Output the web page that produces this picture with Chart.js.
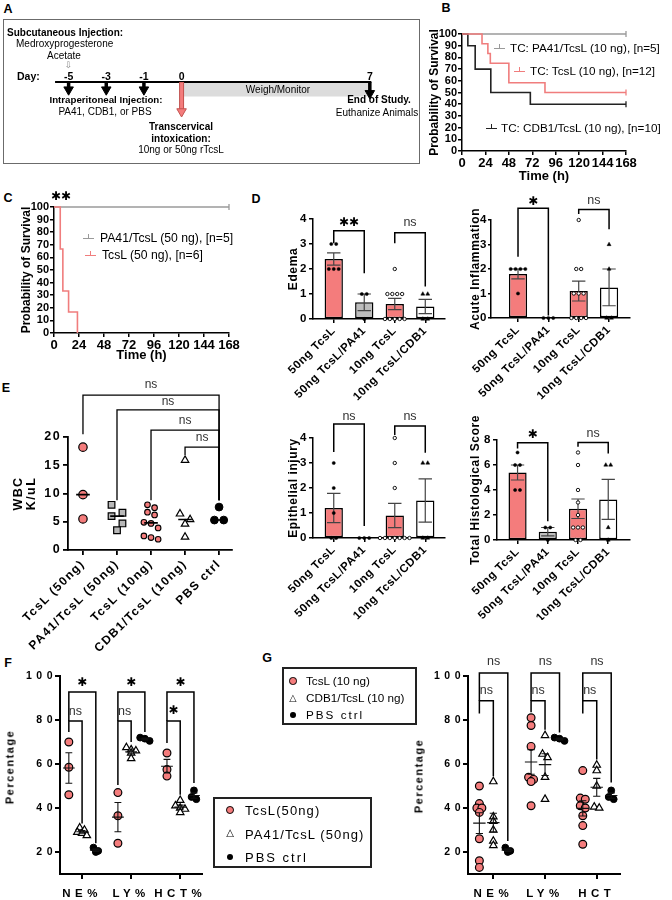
<!DOCTYPE html>
<html><head><meta charset="utf-8">
<script src="https://cdn.jsdelivr.net/npm/chart.js@4.4.1/dist/chart.umd.min.js"></script>
<style>
html,body{margin:0;padding:0;background:#fff}
#root{position:relative;width:672px;height:900px;overflow:hidden;font-family:'Liberation Sans',Arial,Helvetica,sans-serif;color:#000;background:#fff}
#root canvas{position:absolute}
.t{position:absolute;white-space:nowrap;line-height:1}
</style></head><body><div id="root"></div>
<script>
// ================= DATA =================
// Panel A – timeline days
const dayLabels = ['-5', '-3', '-1', '0', '7'];
// Panel B – Kaplan-Meier, 10 ng
const timeTicksH = [0, 24, 48, 72, 96, 120, 144, 168];
const survTicks = [0, 10, 20, 30, 40, 50, 60, 70, 80, 90, 100];
const tB_PA41 = [0, 168];                              const sB_PA41 = [100, 100];
const tB_TcsL = [0, 20.5, 26.5, 29, 48, 85, 168];      const sB_TcsL = [100, 91.7, 83.3, 75, 58.3, 50, 50];
const tB_CDB1 = [0, 6, 13.5, 29.5, 70, 168];           const sB_CDB1 = [100, 90, 70, 50, 40, 40];
const legendB = ['TC: PA41/TcsL (10 ng), [n=5]', 'TC: TcsL (10 ng), [n=12]', 'TC: CDB1/TcsL (10 ng), [n=10]'];
// Panel C – Kaplan-Meier, 50 ng
const tC_PA41 = [0, 168];                  const sC_PA41 = [100, 100];
const tC_TcsL = [0, 6, 8.5, 14, 22.5];     const sC_TcsL = [100, 66.7, 33.3, 16.7, 0];
const legendC = ['PA41/TcsL (50 ng), [n=5]', 'TcsL (50 ng), [n=6]'];
// Panel D – histology scores (individual animals per group)
const histGroups = ['50ng TcsL', '50ng TcsL/PA41', '10ng TcsL', '10ng TcsL/CDB1'];
const histTicks4 = [0, 1, 2, 3, 4];
const histTicks8 = [0, 2, 4, 6, 8];
const edema       = [[3, 3, 2, 2, 2], [1, 1, 0], [2, 1, 1, 1, 1, 0, 0, 0, 0, 0], [1, 1, 0, 0]];
const acuteInfl   = [[2, 2, 2, 2, 1], [0, 0, 0], [4, 2, 2, 1, 1, 1, 0, 0, 0, 0], [3, 2, 0, 0]];
const epithInjury = [[3, 2, 1, 0, 0], [0, 0, 0], [4, 3, 2, 0, 0, 0, 0, 0, 0, 0], [3, 3, 0, 0]];
const totalScore  = [[7, 6, 6, 4, 4], [1, 1, 0], [7, 6, 4, 3, 2, 1, 1, 1, 0, 0], [6, 6, 1, 0]];
// Panel E – WBC (K/uL)
const wbcGroups = ['TcsL (50ng)', 'PA41/TcsL (50ng)', 'TcsL (10ng)', 'CDB1/TcsL (10ng)', 'PBS ctrl'];
const wbcTicks = [0, 5, 10, 15, 20];
const wbc_TcsL50 = [18.2, 9.8, 5.5];
const wbc_PA41   = [8.0, 6.6, 6.0, 4.7, 3.5];
const wbc_TcsL10 = [8.0, 7.5, 6.7, 6.2, 4.9, 4.7, 3.9, 2.5, 2.2, 1.9];
const wbc_CDB1   = [15.9, 6.4, 5.4, 4.6, 2.3];
const wbc_PBS    = [7.6, 5.3, 5.3];
// Panels F & G – blood counts (%), each array: [NE, LY, HCT]
const cbcParamsF = ['NE%', 'LY%', 'HCT%'];
const cbcParamsG = ['NE%', 'LY%', 'HCT'];
const pctTicks = [20, 40, 60, 80, 100];
const F_TcsL50 = [[70, 58.5, 46], [47, 36.5, 24], [65, 57.5, 54.5]];
const F_PA41   = [[31, 30, 29, 28.5, 27.5], [67.5, 66.5, 66, 65, 62.5], [43.5, 41, 40, 39.5, 38]];
const PBS_cbc  = [[22, 20.5, 20], [72, 71.5, 70.5], [48, 45, 44]];
const G_TcsL10 = [[50, 42, 40, 40, 38, 26, 16, 13], [81, 77.5, 68, 54, 53, 52, 41], [57, 44.5, 44, 41, 40, 36.5, 32, 23.5]];
const G_CDB1   = [[52, 36, 34, 30, 25, 23], [73, 64.5, 63, 54, 44], [59.5, 57, 50, 40.5, 40]];
const legendF = ['TcsL(50ng)', 'PA41/TcsL (50ng)', 'PBS ctrl'];
const legendG = ['TcsL (10 ng)', 'CDB1/TcsL (10 ng)', 'PBS ctrl'];

// ================= STYLE / HELPERS =================
const SAL = '#F47C7C', SAL_LINE = '#F07D7D', GRAY_BAR = '#BDBDBD';
const FONT = "'Liberation Sans', Arial, Helvetica, sans-serif";
const STAR_FONT = "bold 12px 'DejaVu Sans', sans-serif";
const NS_FONT = "12.5px " + FONT;
Chart.defaults.font.family = FONT;
Chart.defaults.color = '#000';

const root = document.getElementById('root');
function addCanvas(x, y, w, h) {
  const c = document.createElement('canvas'); c.width = w; c.height = h;
  Object.assign(c.style, {left: x + 'px', top: y + 'px', width: w + 'px', height: h + 'px'});
  root.appendChild(c); return c;
}
function txt(s, x, y, css, ax, ay) {
  const d = document.createElement('div'); d.className = 't'; d.textContent = s;
  d.style.cssText = css || ''; d.style.left = x + 'px'; d.style.top = y + 'px';
  d.style.transform = `translate(${-(ax ?? 0) * 100}%,${-(ay ?? 0.5) * 100}%)`;
  root.appendChild(d); return d;
}
function rtxt(s, cx, cy, css) { const d = txt(s, cx, cy, css, 0.5, 0.5); d.style.transform = 'translate(-50%,-50%) rotate(-90deg)'; return d; }
function div(css) { const d = document.createElement('div'); d.style.cssText = 'position:absolute;box-sizing:border-box;' + css; root.appendChild(d); return d; }
function circ(cx, cy, r, fill, stroke) { div(`left:${cx - r}px;top:${cy - r}px;width:${2 * r}px;height:${2 * r}px;border-radius:50%;background:${fill};border:${stroke ? '1.2px solid #000' : 'none'}`); }
function kmMark(x, y, color) {
  div(`left:${x}px;top:${y - 4}px;width:11px;height:5px;border-bottom:1.4px solid ${color}`);
  div(`left:${x + 5}px;top:${y - 4}px;width:1.4px;height:5px;background:${color}`);
}

const mean = a => a.reduce((s, v) => s + v, 0) / a.length;
const sem = a => { if (a.length < 2) return 0; const m = mean(a); return Math.sqrt(a.reduce((s, x) => s + (x - m) ** 2, 0) / (a.length - 1) / a.length); };
const median = a => { const s = [...a].sort((p, q) => p - q), n = s.length; return n % 2 ? s[(n - 1) / 2] : (s[n / 2 - 1] + s[n / 2]) / 2; };
// horizontal spreading of points that share (almost) the same value
function rowOffsets(vals, pxPerY, rowPx, stepPx, pxPerX) {
  const idx = vals.map((v, i) => i).sort((a, b) => vals[b] - vals[a]);
  const off = new Array(vals.length).fill(0); let row = [];
  const flush = () => { row.forEach((i, j) => { off[i] = (j - (row.length - 1) / 2) * stepPx / pxPerX; }); row = []; };
  for (const i of idx) { if (row.length && (vals[row[0]] - vals[i]) * pxPerY >= rowPx) flush(); row.push(i); }
  flush(); return off;
}
function dots(vals, center, offs, st) {
  return Object.assign({type: 'scatter', data: vals.map((v, i) => ({x: center + offs[i], y: v})), showLine: false, clip: false, order: 2}, st);
}
function segs(list, color, width, order) {
  const data = [];
  list.forEach((s, k) => { if (k) data.push({x: s[0][0], y: null}); s.forEach(p => data.push({x: p[0], y: p[1]})); });
  return {type: 'line', data, borderColor: color, borderWidth: width, pointRadius: 0, fill: false, clip: false, order, spanGaps: false, tension: 0};
}
const bracket = (xl, yl, top, xr, yr) => [[xl, yl], [xl, top], [xr, top], [xr, yr]];

function ax(o) {
  const s = {
    type: 'linear', min: o.min, max: o.max, offset: false,
    afterBuildTicks: sc => { sc.ticks = o.ticks.map(v => ({value: v})); },
    ticks: {font: o.font, padding: o.pad ?? 2, autoSkip: false, maxRotation: o.rot ?? 0, minRotation: o.rot ?? 0,
      callback: o.labels ? (v => o.labels[Math.round(v)]) : (v => String(v))},
    grid: {drawOnChartArea: false, drawTicks: true, tickLength: o.tl ?? 4, color: '#000', lineWidth: o.bw ?? 1.5, offset: false},
    border: {display: true, color: '#000', width: o.bw ?? 1.5},
    title: o.title ? {display: true, text: o.title, font: o.tfont, padding: o.tpad} : {display: false}
  };
  if (o.display === false) s.display = false;
  return s;
}
function notesPlugin(items) {
  return {id: 'notes', afterDraw(chart) {
    const ctx = chart.ctx, xs = chart.scales.x, ys = chart.scales.y;
    items.forEach(n => { ctx.save(); ctx.letterSpacing = '0px'; ctx.font = n.f; ctx.fillStyle = n.c || '#000';
      ctx.textAlign = 'center'; ctx.textBaseline = 'middle';
      ctx.fillText(n.t, xs.getPixelForValue(n.x), ys.getPixelForValue(n.y)); ctx.restore(); });
  }};
}
function spacingPlugin(px) {
  return {id: 'spacing', beforeLayout(c) { c.ctx.letterSpacing = px + 'px'; }, beforeDraw(c) { c.ctx.letterSpacing = px + 'px'; }};
}
function makeChart(box, g, type, datasets, scales, notes, spacing) {
  const c = addCanvas(box[0], box[1], box[2], box[3]);
  if (g.xh != null) scales.x.afterFit = s => { s.height = g.xh; };
  if (g.yw != null) scales.y.afterFit = s => { s.width = g.yw; };
  return new Chart(c, {
    type, data: {datasets},
    options: {responsive: false, animation: false, devicePixelRatio: 1, events: [],
      layout: {padding: {top: g.pt || 0, right: g.pr || 0, left: 0, bottom: 0}},
      scales, plugins: {legend: {display: false}, tooltip: {enabled: false}}},
    plugins: [spacingPlugin(spacing || 0), notesPlugin(notes || [])]
  });
}

// ================= PANEL LETTERS =================
const PL = "font-weight:bold;font-size:12.5px;";
[['A', 8, 9], ['B', 446, 8], ['C', 8, 198], ['D', 256, 199], ['E', 6, 388], ['F', 8, 663], ['G', 267, 658]]
  .forEach(p => txt(p[0], p[1], p[2], PL, 0.5, 0.5));

// ================= PANEL A (schematic timeline) =================
const daySlots = [0, 1, 2, 3, 8]; // schematic (not to scale) slot of each day mark
const slotOf = d => daySlots[dayLabels.indexOf(d)];
div('left:3px;top:19px;width:417px;height:145px;border:1px solid #6b6b6b');
const AY = {line: 62, bandTop: 63, bandBot: 78, tip: 76, endTip: 80, redTip: 100};
function arrowDs(x, y0, tip, color, w, r, fill, edge, order) {
  return {type: 'line', data: [{x, y: y0}, {x, y: tip - r}], borderColor: color, borderWidth: w,
    pointRadius: [0, r], pointStyle: 'triangle', rotation: 180, pointBackgroundColor: fill,
    pointBorderColor: edge, pointBorderWidth: 1, clip: false, order};
}
const dsA = [
  {type: 'line', data: [{x: slotOf('0'), y: AY.bandTop}, {x: slotOf('7'), y: AY.bandTop}], borderWidth: 0, pointRadius: 0, fill: '+1', backgroundColor: '#DCDCDC', order: 9},
  {type: 'line', data: [{x: slotOf('0'), y: AY.bandBot}, {x: slotOf('7'), y: AY.bandBot}], borderWidth: 0, pointRadius: 0, fill: false, order: 9},
  {type: 'line', data: [{x: -0.36, y: AY.line}, {x: slotOf('7') + 0.04, y: AY.line}], borderColor: '#000', borderWidth: 2, pointRadius: 0, order: 5},
];
['-5', '-3', '-1'].forEach(d => dsA.push(arrowDs(slotOf(d), AY.line, AY.tip, '#000', 3.5, 5.5, '#000', '#000', 1)));
dsA.push(arrowDs(slotOf('7'), AY.line, AY.endTip, '#000', 3.5, 5.5, '#000', '#000', 1));
dsA.push({type: 'line', data: [{x: slotOf('0'), y: AY.line}, {x: slotOf('0'), y: AY.redTip - 6}], borderColor: '#C2524F', borderWidth: 5, pointRadius: 0, clip: false, order: 2});
dsA.push(arrowDs(slotOf('0'), AY.line + 1, AY.redTip, SAL, 3, 5.5, SAL, '#C2524F', 0));
const chartA = makeChart([3, 19, 417, 145], {pt: 0, pr: 0}, 'line', dsA,
  {x: ax({min: -1.57, max: 9.16, ticks: [], display: false}), y: Object.assign(ax({min: 0, max: 145, ticks: [], display: false}), {reverse: true})});
const sxA = s => 3 + chartA.scales.x.getPixelForValue(s);
const AT = "font-size:10px;", ATB = "font-size:10px;font-weight:bold;";
txt('Subcutaneous Injection:', 7, 33, ATB, 0, 0.5);
txt('Medroxyprogesterone', 16, 44, AT, 0, 0.5);
txt('Acetate', 47, 56, AT, 0, 0.5);
txt('⇩', sxA(slotOf('-5')), 65, "font-size:9px;color:#888;font-family:'DejaVu Sans';", 0.5, 0.5);
txt('Day:', 17, 76, "font-size:10.5px;font-weight:bold;", 0, 0.5);
dayLabels.forEach(d => txt(d, sxA(slotOf(d)), 76, "font-size:10.5px;font-weight:bold;", 0.5, 0.5));
txt('Weigh/Monitor', 278, 90, AT, 0.5, 0.5);
txt('Intraperitoneal Injection:', 106, 100, "font-size:9.7px;font-weight:bold;", 0.5, 0.5);
txt('PA41, CDB1, or PBS', 105, 112, AT, 0.5, 0.5);
txt('Transcervical', 181, 127, ATB, 0.5, 0.5);
txt('intoxication:', 181, 139, ATB, 0.5, 0.5);
txt('10ng or 50ng rTcsL', 181, 150, AT, 0.5, 0.5);
txt('End of Study.', 379, 100, ATB, 0.5, 0.5);
txt('Euthanize Animals', 377, 113, AT, 0.5, 0.5);

// ================= PANELS B & C (survival) =================
function km(t, s, color, order) {
  const last = t.length - 1;
  return {type: 'line', data: t.map((x, i) => ({x, y: s[i]})), stepped: 'before', borderColor: color, borderWidth: 1.6,
    pointRadius: c => (c.dataIndex === last && s[last] > 0) ? 3 : 0, pointStyle: 'line', rotation: 90,
    pointBorderColor: color, pointBorderWidth: 1.3, clip: false, order};
}
const kmScales = (xpad, ypad) => ({
  x: ax({min: 0, max: 168, ticks: timeTicksH, font: {size: 13, weight: 'bold'}, pad: 1, tl: 4,
    title: 'Time (h)', tfont: {size: 13, weight: 'bold'}, tpad: {top: 0, bottom: xpad}}),
  y: ax({min: 0, max: 100, ticks: survTicks, font: {size: 11, weight: 'bold'}, pad: 1, tl: 4,
    title: 'Probability of Survival', tfont: {size: 12, weight: 'bold'}, tpad: {top: ypad, bottom: 0}})
});
makeChart([425, 0, 247, 192], {yw: 37, xh: 41, pt: 34, pr: 46}, 'line',
  [km(tB_PA41, sB_PA41, '#9A9A9A', 3), km(tB_CDB1, sB_CDB1, '#222', 2), km(tB_TcsL, sB_TcsL, SAL_LINE, 1)],
  kmScales(8.2, 2.8));
const LG = "font-size:11.7px;";
kmMark(494, 48, '#9A9A9A'); txt(legendB[0], 510, 48, LG, 0, 0.5);
kmMark(514, 71, SAL_LINE);  txt(legendB[1], 530, 71, LG, 0, 0.5);
kmMark(486, 128, '#222');   txt(legendB[2], 501, 128, LG, 0, 0.5);

makeChart([15, 185, 235, 182], {yw: 39, xh: 34, pt: 22, pr: 21}, 'line',
  [km(tC_PA41, sC_PA41, '#9A9A9A', 2), km(tC_TcsL, sC_TcsL, SAL_LINE, 1)],
  kmScales(4.2, 4.8), [{t: '✱✱', x: 6.7, y: 108, f: STAR_FONT}]);
kmMark(83, 238, '#9A9A9A'); txt(legendC[0], 100, 238, "font-size:12.2px;", 0, 0.5);
kmMark(85, 255, SAL_LINE);  txt(legendC[1], 102, 255, "font-size:12.2px;", 0, 0.5);

// ================= PANEL D (histology bar charts) =================
const HIST_FILL = [SAL, GRAY_BAR, SAL, '#FFFFFF'];
const HIST_MK = [
  {pointStyle: 'circle', pointRadius: 1.6, pointBackgroundColor: '#000', pointBorderColor: '#000', pointBorderWidth: 0.5},
  {pointStyle: 'circle', pointRadius: 1.6, pointBackgroundColor: '#000', pointBorderColor: '#000', pointBorderWidth: 0.5},
  {pointStyle: 'circle', pointRadius: 1.7, pointBackgroundColor: '#fff', pointBorderColor: '#000', pointBorderWidth: 0.9},
  {pointStyle: 'triangle', pointRadius: 2.3, pointBackgroundColor: '#000', pointBorderColor: '#000', pointBorderWidth: 0.5},
];
function histChart(box, g, xr, yMax, yTicks, pxPerY, yTitle, tpad, vals, brk, notes, yt) {
  const ds = [{type: 'bar', data: vals.map((v, i) => ({x: i, y: mean(v)})), backgroundColor: HIST_FILL,
    borderColor: '#000', borderWidth: 1.5, borderSkipped: false, barPercentage: 0.6, categoryPercentage: 1, order: 10}];
  const eb = [];
  vals.forEach((v, i) => { const m = mean(v), s = sem(v); if (s > 0) {
    eb.push([[i, m - s], [i, m + s]], [[i - 0.22, m + s], [i + 0.22, m + s]], [[i - 0.22, m - s], [i + 0.22, m - s]]); } });
  ds.push(segs(eb, '#444', 1.2, 5));
  vals.forEach((v, i) => ds.push(dots(v, i, rowOffsets(v, pxPerY, 1, 5, 31), HIST_MK[i])));
  brk.forEach(b => ds.push(segs([bracket(...b)], '#000', 1.5, 0)));
  yt = yt || {pad: 2, tl: 4};
  const scales = {
    x: ax({min: xr[0], max: xr[1], ticks: [0, 1, 2, 3], labels: histGroups, font: {size: 11.5, weight: 'bold'}, pad: 1, tl: 4, rot: 45}),
    y: ax({min: 0, max: yMax, ticks: yTicks, font: {size: 11.5, weight: 'bold'}, pad: yt.pad, tl: yt.tl,
      title: yTitle, tfont: {size: 12, weight: 'bold'}, tpad: {top: tpad, bottom: 0}})
  };
  return makeChart(box, g, 'bar', ds, scales, notes, 0.6);
}
histChart([282, 190, 168, 215], {yw: 31, xh: 86, pt: 29, pr: 3}, [-0.68, 3.65], 4, histTicks4, 25, 'Edema', 4.8, edema,
  [[0, 3.03, 3.53, 1, 1.83], [2, 3.03, 3.45, 3, 1.3]],
  [{t: '✱✱', x: 0.5, y: 3.84, f: STAR_FONT}, {t: 'ns', x: 2.5, y: 3.84, f: NS_FONT, c: '#333'}]);
histChart([465, 190, 207, 215], {yw: 26, xh: 87, pt: 30, pr: 42}, [-0.89, 3.69], 4, histTicks4, 24.5, 'Acute Inflammation', 3.3, acuteInfl,
  [[0, 2.5, 4.48, 1, 0.1], [2, 4.24, 4.43, 3, 3.62]],
  [{t: '✱', x: 0.5, y: 4.75, f: STAR_FONT}, {t: 'ns', x: 2.5, y: 4.8, f: NS_FONT, c: '#333'}], {pad: 1, tl: 3});
histChart([282, 405, 168, 215], {yw: 31, xh: 82, pt: 33, pr: 3}, [-0.68, 3.65], 4, histTicks4, 25, 'Epithelial injury', 4.8, epithInjury,
  [[0, 3.44, 4.56, 1, 0.48], [2, 4.12, 4.48, 3, 3.41]],
  [{t: 'ns', x: 0.5, y: 4.84, f: NS_FONT, c: '#333'}, {t: 'ns', x: 2.5, y: 4.85, f: NS_FONT, c: '#333'}]);
histChart([467, 405, 205, 215], {yw: 30, xh: 80, pt: 35, pr: 42}, [-0.68, 3.72], 8, histTicks8, 12.5, 'Total Histological Score', 1.8, totalScore,
  [[0, 7.33, 7.79, 1, 1.5], [2, 7.47, 7.81, 3, 6.93]],
  [{t: '✱', x: 0.5, y: 8.4, f: STAR_FONT}, {t: 'ns', x: 2.5, y: 8.53, f: NS_FONT, c: '#333'}]);

// ================= PANEL E (WBC) =================
(function () {
  const sets = [wbc_TcsL50, wbc_PA41, wbc_TcsL10, wbc_CDB1, wbc_PBS];
  const MK = [
    {pointStyle: 'circle', pointRadius: 4.2, pointBackgroundColor: SAL, pointBorderColor: '#000', pointBorderWidth: 1.2},
    {pointStyle: 'rect', pointRadius: 4.7, pointBackgroundColor: '#B8B8B8', pointBorderColor: '#000', pointBorderWidth: 1.2},
    {pointStyle: 'circle', pointRadius: 2.8, pointBackgroundColor: SAL, pointBorderColor: '#000', pointBorderWidth: 1.1},
    {pointStyle: 'triangle', pointRadius: 4.3, pointBackgroundColor: '#fff', pointBorderColor: '#000', pointBorderWidth: 1.2},
    {pointStyle: 'circle', pointRadius: 3.9, pointBackgroundColor: '#000', pointBorderColor: '#000', pointBorderWidth: 1},
  ];
  const ds = [], med = [];
  sets.forEach((v, i) => { const d = 2 * MK[i].pointRadius + 1.5;
    ds.push(dots(v, i, rowOffsets(v, 5.65, d, d, 34), MK[i]));
    const m = median(v); med.push([[i - 0.2, m], [i + 0.2, m]]); });
  ds.push(segs(med, '#000', 1.6, 1));
  [[0, 20.5, 27.4, 4, 8.8], [1, 8.8, 24.8, 4, 8.8], [2, 8.8, 21.2, 4, 8.8], [3, 16.8, 18.2, 4, 8.8]]
    .forEach(b => ds.push(segs([bracket(...b)], '#000', 1.3, 0)));
  const notes = [[2, 29.2], [2.5, 26.2], [3, 22.9], [3.5, 19.8]].map(p => ({t: 'ns', x: p[0], y: p[1], f: "12px " + FONT, c: '#333'}));
  const yAx = ax({min: 0, max: 20, ticks: wbcTicks, font: {size: 12.5, weight: 'bold'}, pad: 2, tl: 5, bw: 1.8,
    title: ['WBC', 'K/uL'], tfont: {size: 12.5, weight: 'bold', lineHeight: 1.0}, tpad: {top: 7.5, bottom: 0}});
  makeChart([5, 375, 245, 285], {yw: 63, xh: 110, pt: 62, pr: 18}, 'scatter', ds,
    {x: ax({min: -0.44, max: 4.38, ticks: [0, 1, 2, 3, 4], labels: wbcGroups, font: {size: 12, weight: 'bold'}, pad: 2, tl: 5, bw: 1.8, rot: 45}), y: yAx},
    notes, 1.4);
})();

// ================= PANELS F & G (blood counts) =================
const GRP_OFF = [-0.27, 0, 0.28];
function cbcChart(box, g, xr, labels, groups, markers, brk, notes) {
  const ds = [], lines = [];
  groups.forEach((grp, gi) => grp.forEach((v, pi) => {
    const c = pi + GRP_OFF[gi];
    ds.push(dots(v, c, rowOffsets(v, 2.2, 4, 5, 51.7), markers[gi]));
    const m = mean(v), s = sem(v);
    lines.push([[c - 0.12, m], [c + 0.12, m]], [[c, m - s], [c, m + s]],
      [[c - 0.07, m + s], [c + 0.07, m + s]], [[c - 0.07, m - s], [c + 0.07, m - s]]);
  }));
  ds.push(segs(lines, '#111', 1.1, 1));
  brk.forEach(b => ds.push(segs([bracket(...b)], '#000', 1.5, 0)));
  const scales = {
    x: ax({min: xr[0], max: xr[1], ticks: [0, 1, 2], labels, font: {size: 11.5, weight: 'bold'}, pad: 8, tl: 5, bw: 2}),
    y: ax({min: 10, max: 100, ticks: pctTicks, font: {size: 10.5, weight: 'bold'}, pad: -2, tl: 5, bw: 2})
  };
  return makeChart(box, g, 'scatter', ds, scales, notes, 4.5);
}
const MK_SAL = {pointStyle: 'circle', pointRadius: 3.9, pointBackgroundColor: SAL, pointBorderColor: '#000', pointBorderWidth: 1.2};
const MK_TRI = {pointStyle: 'triangle', pointRadius: 4.3, pointBackgroundColor: '#fff', pointBorderColor: '#000', pointBorderWidth: 1.2};
const MK_PBS = {pointStyle: 'circle', pointRadius: 3.4, pointBackgroundColor: '#000', pointBorderColor: '#000', pointBorderWidth: 1};
const outerBr = (c, lb, top, rb) => [c + GRP_OFF[0], lb, top, c + GRP_OFF[2], rb];
const innerBr = (c, lb, top, rb) => [c + GRP_OFF[0], lb, top, c + GRP_OFF[1], rb];
cbcChart([0, 650, 215, 250], {yw: 60, xh: 26, pt: 26, pr: 5}, [-0.45, 2.45], cbcParamsF,
  [F_TcsL50, F_PA41, PBS_cbc], [MK_SAL, MK_TRI, MK_PBS],
  [outerBr(0, 79.5, 92.7, 24), innerBr(0, 74.5, 79.5, 33),
   outerBr(1, 79.5, 92.7, 74.5), innerBr(1, 50.5, 79.5, 70),
   outerBr(2, 79.5, 92.7, 51.4), innerBr(2, 69.5, 79.5, 46)],
  [{t: '✱', x: 0.005, y: 96.8, f: STAR_FONT}, {t: '✱', x: 1.005, y: 96.8, f: STAR_FONT}, {t: '✱', x: 2.005, y: 96.8, f: STAR_FONT},
   {t: 'ns', x: -0.135, y: 84, f: NS_FONT, c: '#333'}, {t: 'ns', x: 0.865, y: 84, f: NS_FONT, c: '#333'}, {t: '✱', x: 1.865, y: 84, f: STAR_FONT}]);
cbcChart([412, 650, 260, 250], {yw: 56, xh: 26, pt: 26, pr: 52}, [-0.49, 2.45], cbcParamsG,
  [G_TcsL10, G_CDB1, PBS_cbc], [MK_SAL, MK_TRI, MK_PBS],
  [outerBr(0, 88.7, 101.4, 25), innerBr(0, 83, 88.7, 54.4),
   outerBr(1, 88.7, 101.4, 74.3), innerBr(1, 83.5, 88.7, 75.6),
   outerBr(2, 88.7, 101.4, 51.6), innerBr(2, 83, 88.7, 62)],
  [0, 1, 2].flatMap(c => [{t: 'ns', x: c + 0.005, y: 106.4, f: NS_FONT, c: '#333'}, {t: 'ns', x: c - 0.135, y: 93.6, f: NS_FONT, c: '#333'}]));
const PT = "font-size:11px;font-weight:bold;letter-spacing:1.5px;";
rtxt('Percentage', 10, 767, PT);
rtxt('Percentage', 419, 776, PT);

// legends F & G
div('left:213px;top:797px;width:159px;height:71px;border:2px solid #222');
circ(230, 810, 3.9, SAL, true);
txt('△', 230, 833, "font-size:10px;font-family:'DejaVu Sans';", 0.5, 0.5);
circ(230, 857, 3, '#000', false);
const LF = "font-size:13px;letter-spacing:1.1px;";
txt(legendF[0], 245, 810, LF, 0, 0.5);
txt(legendF[1], 245, 834, LF, 0, 0.5);
txt(legendF[2], 245, 857, "font-size:13px;letter-spacing:2px;", 0, 0.5);
div('left:282px;top:667px;width:135px;height:58px;border:2px solid #222');
circ(293, 681, 3.7, SAL, true);
txt('△', 293, 698, "font-size:9.5px;font-family:'DejaVu Sans';", 0.5, 0.5);
circ(293, 715, 2.9, '#000', false);
txt(legendG[0], 306, 681, "font-size:11.7px;", 0, 0.5);
txt(legendG[1], 306, 698, "font-size:11.7px;", 0, 0.5);
txt(legendG[2], 306, 715, "font-size:11.7px;letter-spacing:2px;", 0, 0.5);
</script></body></html>
